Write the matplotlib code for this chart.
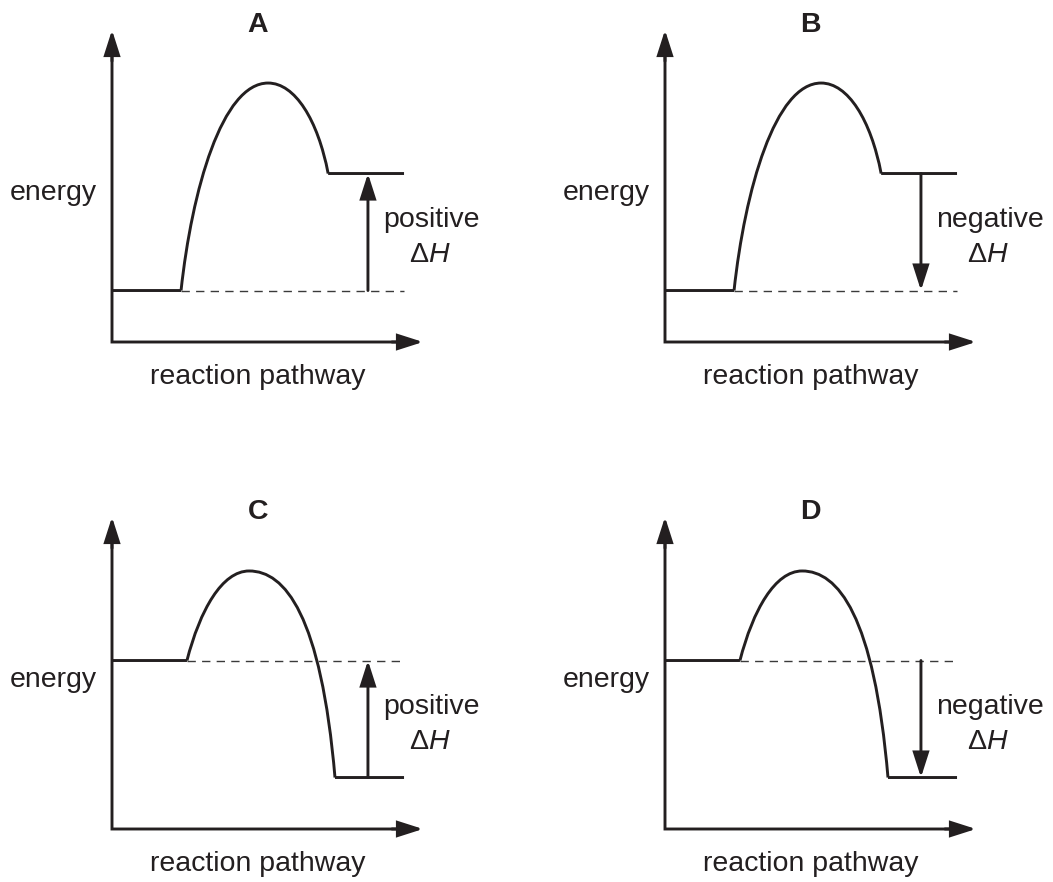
import matplotlib
matplotlib.use('Agg')
import matplotlib.pyplot as plt
from matplotlib.path import Path
from matplotlib.patches import PathPatch

plt.rcParams['font.family'] = ['Liberation Sans', 'DejaVu Sans']
plt.rcParams['mathtext.fontset'] = 'custom'
plt.rcParams['mathtext.rm'] = 'Liberation Sans'
plt.rcParams['mathtext.it'] = 'Liberation Sans:italic'

INK = '#231f20'

# panel data (energy in arbitrary units, axes run 0..100)
titles = ['A', 'B', 'C', 'D']
reactant_energy = [16.5, 16.5, 54.0, 54.0]
product_energy = [54.0, 54.0, 16.5, 16.5]
dh_labels = ['positive', 'negative', 'positive', 'negative']
profiles = ['endo', 'endo', 'exo', 'exo']

# Bezier control points of the energy hump (start, 3 ctrl, 3 ctrl)
endo_x = [22.2, 25.7, 35.4, 50.2, 58.8, 66.2, 69.5]
endo_y = [16.5, 48.7, 83.0, 83.0, 83.0, 71.2, 54.0]
exo_x = [24.1, 28.3, 35.4, 44.1, 55.6, 67.2, 71.7]
exo_y = [54.0, 70.2, 82.7, 82.7, 82.7, 68.6, 16.5]
curves = {'endo': (endo_x, endo_y), 'exo': (exo_x, exo_y)}

level_end = 93.9
dh_x = 82.3

# layout: origin of each panel in pixels (image coords)
W, H = 1053, 882
origins = [(112, 342), (665, 342), (112, 829), (665, 829)]
px_x, px_y = 3.11, 3.12

fig = plt.figure(figsize=(W / 100, H / 100), dpi=100)

LW = 2.1
arrow_kw = dict(arrowstyle='-|>,head_length=15,head_width=4.8', mutation_scale=1,
                lw=LW, color=INK, shrinkA=0, shrinkB=0, joinstyle='miter')
line_kw = dict(color=INK, lw=LW, solid_capstyle='butt', solid_joinstyle='miter',
               clip_on=False, snap=False)

for i in range(4):
    ox, oy = origins[i]
    ax = fig.add_axes([ox / W, (H - oy) / H, 100 * px_x / W, 100 * px_y / H])
    ax.set_xlim(0, 100)
    ax.set_ylim(0, 100)
    ax.axis('off')

    # axes: L-shaped line plus arrowheads
    ax.plot([0, 0, 95], [95, 0, 0], **line_kw)
    ax.annotate('', xy=(0, 100), xytext=(0, 90), arrowprops=arrow_kw, annotation_clip=False)
    ax.annotate('', xy=(100, 0), xytext=(90, 0), arrowprops=arrow_kw, annotation_clip=False)

    r = reactant_energy[i]
    p = product_energy[i]
    cx, cy = curves[profiles[i]]

    # reactant level, hump, product level
    ax.plot([0, cx[0]], [r, r], **line_kw)
    verts = list(zip(cx, cy))
    codes = [Path.MOVETO] + [Path.CURVE4] * 6
    ax.add_patch(PathPatch(Path(verts, codes), fill=False, ec=INK, lw=LW,
                           capstyle='butt', clip_on=False))
    ax.plot([cx[-1], level_end], [p, p], **line_kw)

    # dashed reference level
    ax.plot([cx[0], level_end], [r, r], color='#3a3a3a', lw=1, linestyle=(0, (6, 4.5)),
            clip_on=False)

    # delta H arrow
    lo, hi = min(r, p), max(r, p)
    if dh_labels[i] == 'positive':
        start, end = lo, hi
    else:
        start, end = hi, lo
    ax.annotate('', xy=(dh_x, end), xytext=(dh_x, start), arrowprops=arrow_kw,
                annotation_clip=False)

    tkw = dict(ha='center', va='baseline', fontsize=20.5, color=INK, clip_on=False)
    ax.text(46.9, 99.4, titles[i], fontweight='bold', **tkw)
    ax.text(-18.8, 45.5, 'energy', **tkw)
    ax.text(46.9, -13.5, 'reaction pathway', **tkw)
    lx = 102.7 if dh_labels[i] == 'positive' else 104.5
    ax.text(lx, 36.9, dh_labels[i], **tkw)
    ax.text(lx - 0.6, 25.6, r'$\mathrm{\Delta}\mathit{H}$', **tkw)

fig.savefig('out.png', dpi=100, facecolor='white')
